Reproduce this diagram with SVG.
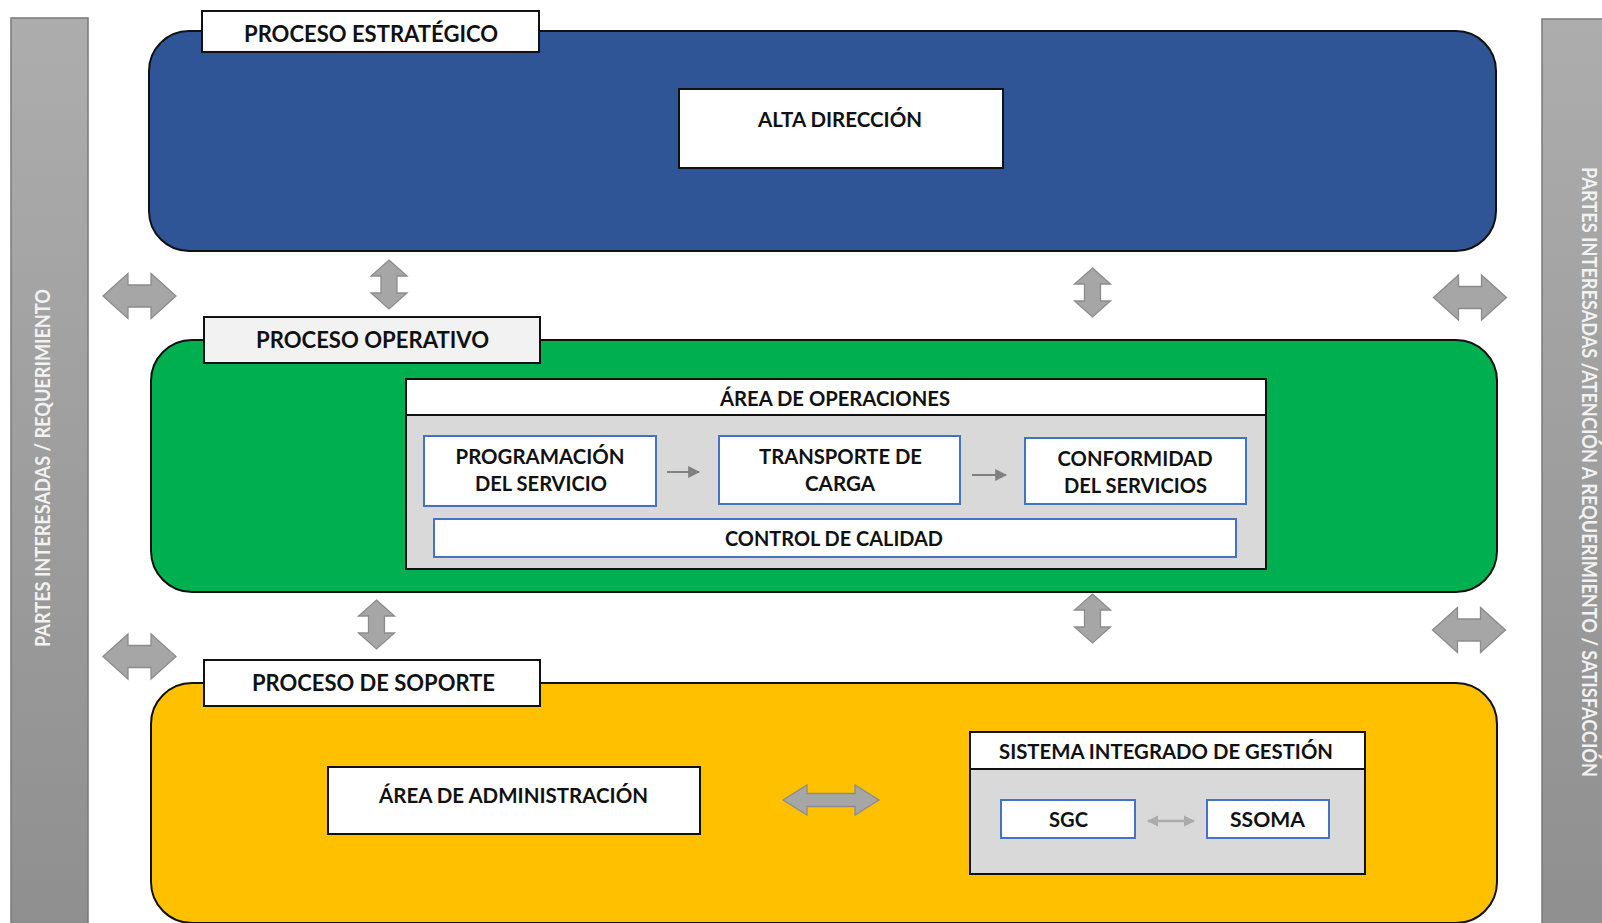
<svg xmlns="http://www.w3.org/2000/svg" width="1602" height="923" viewBox="0 0 1602 923">
  <defs>
    <style>
      text { font-family: Lato, "Liberation Sans", "DejaVu Sans", sans-serif; font-weight: bold; fill: #111; text-anchor: middle; }
      .tab { font-size: 22px; }
      .lbl { font-size: 20px; }
      .side { font-size: 20px; fill: #f2f2f2; }
      .band { stroke: #111; stroke-width: 2; }
      .box { fill: #fff; stroke: #111; stroke-width: 2; }
      .area { fill: #d9d9d9; stroke: #111; stroke-width: 2; }
      .step { fill: #fff; stroke: #4472c4; stroke-width: 2; }
      .bar { stroke: #7a7a7a; stroke-width: 1.5; }
      .flow { fill: #a6a6a6; stroke: #8c8c8c; stroke-width: 1.3; }
      .thin { stroke: #808080; stroke-width: 2; fill: none; }
      .thin2 { stroke: #ababab; stroke-width: 2.5; fill: none; }
    </style>
    <linearGradient id="barFill" x1="0" y1="0" x2="0" y2="1">
      <stop offset="0" stop-color="#adadad"/>
      <stop offset="1" stop-color="#8f8f8f"/>
    </linearGradient>
    <!-- wide double arrow between process bands and side bars -->
    <path id="hArrow" d="M -36.5 0 L -11.5 -22.5 L -11.5 -11 L 11.5 -11 L 11.5 -22.5 L 36.5 0 L 11.5 22.5 L 11.5 11 L -11.5 11 L -11.5 22.5 Z"/>
    <!-- vertical double arrow between bands -->
    <path id="vArrow" d="M 0 -24.5 L 18 -8.5 L 8 -8.5 L 8 8.5 L 18 8.5 L 0 24.5 L -18 8.5 L -8 8.5 L -8 -8.5 L -18 -8.5 Z"/>
    <marker id="headDark" viewBox="0 0 10 10" refX="9" refY="5" markerWidth="6" markerHeight="6" orient="auto-start-reverse" markerUnits="strokeWidth">
      <path d="M0 0 L10 5 L0 10 Z" fill="#808080"/>
    </marker>
    <marker id="headLight" viewBox="0 0 10 10" refX="9" refY="5" markerWidth="4.5" markerHeight="4.5" orient="auto-start-reverse" markerUnits="strokeWidth">
      <path d="M0 0 L10 5 L0 10 Z" fill="#ababab"/>
    </marker>
  </defs>

  <rect width="1602" height="923" fill="#fff"/>

  <!-- side bars -->
  <g id="side-left">
    <rect class="bar" x="11" y="18" width="77" height="910" fill="url(#barFill)"/>
    <text class="side" transform="translate(50,468) rotate(-90)" textLength="358" lengthAdjust="spacingAndGlyphs">PARTES INTERESADAS / REQUERIMIENTO</text>
  </g>
  <g id="side-right">
    <rect class="bar" x="1542" y="19" width="70" height="910" fill="url(#barFill)"/>
    <text class="side" transform="translate(1582,472) rotate(90)" textLength="610" lengthAdjust="spacingAndGlyphs">PARTES INTERESADAS /ATENCIÓN A REQUERIMIENTO / SATISFACCIÓN</text>
  </g>

  <!-- strategic band -->
  <g id="proceso-estrategico">
    <rect class="band" x="149" y="31" width="1347" height="220" rx="40" fill="#2f5597"/>
    <rect class="box" x="202" y="11" width="337" height="41"/>
    <text class="tab" x="371" y="42" textLength="254" lengthAdjust="spacingAndGlyphs">PROCESO ESTRATÉGICO</text>
  </g>
  <g id="alta-direccion">
    <rect class="box" x="679" y="89" width="324" height="79"/>
    <text class="lbl" x="840" y="127" textLength="164" lengthAdjust="spacingAndGlyphs">ALTA DIRECCIÓN</text>
  </g>

  <!-- operative band -->
  <g id="proceso-operativo">
    <rect class="band" x="151" y="340" width="1346" height="252" rx="41" fill="#00b050"/>
    <rect x="204" y="317" width="336" height="46" fill="#f2f2f2" stroke="#111" stroke-width="2"/>
    <text class="tab" x="372.5" y="348" textLength="233" lengthAdjust="spacingAndGlyphs">PROCESO OPERATIVO</text>
  </g>
  <g id="area-operaciones">
    <rect class="area" x="406" y="379" width="860" height="190"/>
    <rect class="box" x="406" y="379" width="860" height="36"/>
    <text class="lbl" x="835" y="406" textLength="230" lengthAdjust="spacingAndGlyphs">ÁREA DE OPERACIONES</text>
  </g>
  <g id="programacion">
    <rect class="step" x="424" y="436" width="232" height="70"/>
    <text class="lbl" x="540" y="464" textLength="169" lengthAdjust="spacingAndGlyphs">PROGRAMACIÓN</text>
    <text class="lbl" x="541" y="491" textLength="132" lengthAdjust="spacingAndGlyphs">DEL SERVICIO</text>
  </g>
  <g id="transporte">
    <rect class="step" x="719" y="436" width="241" height="68"/>
    <text class="lbl" x="840.5" y="464" textLength="163" lengthAdjust="spacingAndGlyphs">TRANSPORTE DE</text>
    <text class="lbl" x="840" y="491" textLength="70" lengthAdjust="spacingAndGlyphs">CARGA</text>
  </g>
  <g id="conformidad">
    <rect class="step" x="1025" y="438" width="221" height="66"/>
    <text class="lbl" x="1135" y="466" textLength="155" lengthAdjust="spacingAndGlyphs">CONFORMIDAD</text>
    <text class="lbl" x="1135.5" y="493" textLength="143" lengthAdjust="spacingAndGlyphs">DEL SERVICIOS</text>
  </g>
  <g id="control-calidad">
    <rect class="step" x="434" y="519" width="802" height="38"/>
    <text class="lbl" x="834" y="546" textLength="218" lengthAdjust="spacingAndGlyphs">CONTROL DE CALIDAD</text>
  </g>

  <!-- support band -->
  <g id="proceso-soporte">
    <rect class="band" x="151" y="683" width="1346" height="240" rx="41" fill="#ffc000"/>
    <rect class="box" x="204" y="660" width="336" height="46"/>
    <text class="tab" x="373.5" y="691" textLength="243" lengthAdjust="spacingAndGlyphs">PROCESO DE SOPORTE</text>
  </g>
  <g id="area-administracion">
    <rect class="box" x="328" y="767" width="372" height="67"/>
    <text class="lbl" x="513.5" y="803" textLength="269" lengthAdjust="spacingAndGlyphs">ÁREA DE ADMINISTRACIÓN</text>
  </g>
  <g id="sistema-integrado">
    <rect class="area" x="970" y="732" width="395" height="142"/>
    <rect class="box" x="970" y="732" width="395" height="37"/>
    <text class="lbl" x="1166" y="759" textLength="334" lengthAdjust="spacingAndGlyphs">SISTEMA INTEGRADO DE GESTIÓN</text>
  </g>
  <g id="sgc">
    <rect class="step" x="1001" y="800" width="134" height="38"/>
    <text class="lbl" x="1068.5" y="827" textLength="39" lengthAdjust="spacingAndGlyphs">SGC</text>
  </g>
  <g id="ssoma">
    <rect class="step" x="1207" y="800" width="122" height="38"/>
    <text class="lbl" x="1267.5" y="827" textLength="75" lengthAdjust="spacingAndGlyphs">SSOMA</text>
  </g>

  <!-- connectors -->
  <g id="connectors">
    <use href="#hArrow" class="flow" x="139.5" y="296"/>
    <use href="#vArrow" class="flow" x="389" y="284.5"/>
    <use href="#vArrow" class="flow" x="1092.5" y="292.5"/>
    <use href="#hArrow" class="flow" x="1470" y="297.5"/>

    <use href="#hArrow" class="flow" x="139.5" y="656.5"/>
    <use href="#vArrow" class="flow" x="376.5" y="624.5"/>
    <use href="#vArrow" class="flow" x="1092.5" y="618.5"/>
    <use href="#hArrow" class="flow" x="1469" y="630"/>

    <path class="flow" d="M 783 800 L 807 785 L 807 793.5 L 855 793.5 L 855 785 L 879 800 L 855 815 L 855 806.5 L 807 806.5 L 807 815 Z"/>

    <line class="thin" x1="667" y1="472" x2="699" y2="472" marker-end="url(#headDark)"/>
    <line class="thin" x1="972" y1="475" x2="1006" y2="475" marker-end="url(#headDark)"/>
    <line class="thin2" x1="1148" y1="821" x2="1194" y2="821" marker-start="url(#headLight)" marker-end="url(#headLight)"/>
  </g>
</svg>
